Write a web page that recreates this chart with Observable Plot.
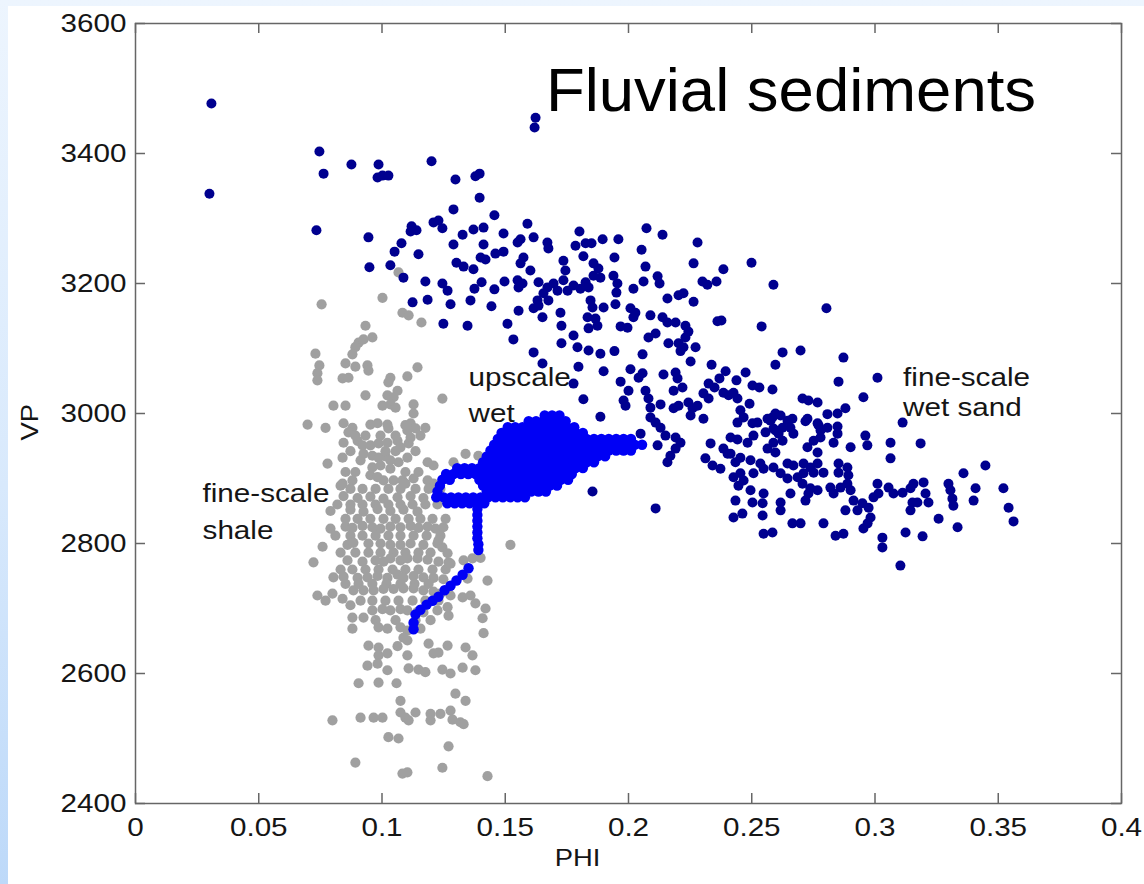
<!DOCTYPE html>
<html>
<head>
<meta charset="utf-8">
<script src="https://cdn.jsdelivr.net/npm/d3@7"></script>
<script src="https://cdn.jsdelivr.net/npm/@observablehq/plot@0.6"></script>
<style>
html, body { margin: 0; padding: 0; }
body { width: 1144px; height: 884px; overflow: hidden; position: relative;
  background: linear-gradient(to bottom, #edf5fe 0%, #d8e9fc 55%, #bdd9f9 100%); }
#panel { position: absolute; left: 8px; top: 6px; width: 1136px; height: 878px; background: #fff; }
</style>
</head>
<body>
<div id="panel"></div>
<script>
// ---------- data (PHI, VP) ----------
const xTicks = [0, 0.05, 0.1, 0.15, 0.2, 0.25, 0.3, 0.35, 0.4];
const yTicks = [2400, 2600, 2800, 3000, 3200, 3400, 3600];

// fine-scale wet sand (navy)
const wetSand = [
[0.0308,3477],[0.0300,3338],[0.0746,3403],[0.0763,3369],[0.0876,3383],[0.0986,3383],[0.0982,3363],[0.1002,3366],[0.1026,3366],[0.0734,3282],[0.0945,3271],[0.1051,3249],[0.0949,3225],[0.1034,3228],
[0.1623,3455],[0.1619,3440],[0.1201,3388],[0.1298,3360],[0.1379,3365],[0.1396,3369],[0.1396,3332],[0.1290,3314],[0.1456,3305],[0.1120,3288],[0.1116,3280],[0.1140,3282],[0.1209,3294],[0.1229,3297],[0.1245,3285],[0.1327,3275],[0.1371,3283],[0.1412,3286],[0.1493,3277],[0.1590,3292],[0.1562,3268],[0.1615,3271],[0.1079,3262],[0.1148,3245],[0.1290,3260],[0.1412,3260],[0.1087,3209],[0.1302,3232],[0.1331,3226],[0.1371,3222],[0.1400,3240],[0.1420,3237],[0.1460,3246],[0.1493,3249],[0.1574,3240],[0.1550,3263],[0.1562,3231],[0.1602,3220],[0.1671,3263],[0.1675,3254],[0.1736,3235],[0.1744,3220],[0.1176,3203],[0.1245,3200],[0.1266,3189],[0.1185,3175],[0.1124,3171],[0.1278,3168],[0.1359,3174],[0.1375,3192],[0.1404,3202],[0.1456,3191],[0.1497,3203],[0.1444,3165],[0.1550,3205],[0.1570,3200],[0.1554,3194],[0.1635,3202],[0.1671,3194],[0.1696,3200],[0.1712,3189],[0.1655,3185],[0.1631,3174],[0.1615,3162],[0.1635,3166],[0.1675,3174],[0.1554,3158],[0.1509,3138],[0.1249,3138],[0.1347,3135],[0.1651,3148],[0.1724,3155],[0.1728,3135],[0.1533,3114],[0.1615,3094],[0.1728,3108],[0.1651,3077],
[0.1801,3280],[0.1785,3258],[0.1826,3262],[0.1850,3262],[0.1895,3268],[0.1959,3268],[0.2073,3285],[0.2138,3275],[0.2280,3263],[0.2053,3252],[0.1817,3242],[0.1736,3205],[0.1858,3231],[0.1878,3223],[0.1886,3209],[0.1858,3212],[0.1943,3240],[0.1939,3212],[0.1955,3200],[0.1951,3186],[0.2069,3226],[0.2061,3203],[0.2118,3211],[0.2126,3200],[0.2264,3231],[0.2385,3222],[0.2499,3232],[0.2300,3203],[0.2320,3198],[0.2357,3203],[0.2588,3198],[0.1777,3197],[0.1753,3189],[0.1805,3192],[0.1826,3202],[0.1838,3194],[0.2020,3192],[0.2158,3177],[0.2203,3182],[0.2223,3185],[0.2264,3172],[0.1846,3174],[0.1854,3163],[0.1899,3163],[0.1947,3168],[0.2008,3162],[0.2028,3155],[0.2020,3148],[0.2089,3151],[0.2138,3148],[0.2158,3140],[0.2191,3140],[0.2231,3135],[0.2243,3126],[0.2231,3117],[0.2361,3142],[0.2377,3143],[0.2540,3134],[0.1834,3148],[0.1866,3146],[0.1874,3135],[0.1838,3131],[0.1968,3134],[0.1996,3132],[0.1777,3120],[0.2081,3117],[0.2110,3123],[0.2162,3108],[0.2203,3108],[0.2223,3102],[0.2211,3096],[0.2272,3102],[0.1793,3102],[0.1838,3097],[0.1886,3092],[0.1943,3096],[0.2057,3091],[0.2252,3080],[0.2625,3094],[0.2698,3097],[0.2596,3075],[0.2337,3075],[0.1797,3072],[0.1899,3065],[0.2008,3068],[0.2057,3062],[0.2041,3055],[0.2142,3060],[0.2191,3063],[0.2199,3054],[0.2394,3065],[0.2475,3063],[0.1968,3049],[0.1777,3046],[0.2325,3046],[0.2349,3040],[0.2369,3054],[0.2438,3051],[0.2503,3043],[0.2531,3040],[0.2584,3037],[0.2000,3035],[0.2069,3035],[0.2081,3023],[0.2089,3009],[0.2183,3035],[0.2219,3040],[0.1817,3022],[0.1980,3020],[0.1988,3012],[0.2130,3014],[0.2183,3008],[0.2203,3012],[0.2243,3017],[0.2260,3008],[0.2252,2997],[0.2280,3012],[0.2304,3031],[0.2325,3023],[0.2304,2992],[0.2406,3028],[0.2426,3032],[0.2442,3023],[0.2491,3015],[0.2706,3023],[0.2730,3020],[0.2767,3017],[0.1886,2995],[0.2089,2994],[0.2110,2986],[0.2130,2978],[0.2049,2969],[0.2118,2951],[0.2150,2966],[0.2191,2963],[0.2211,2955],[0.2191,2946],[0.2170,2935],[0.2158,2925],[0.2454,3005],[0.2467,2994],[0.2442,2986],[0.2503,2985],[0.2523,2986],[0.2584,2994],[0.2617,2997],[0.2645,2989],[0.2657,2978],[0.2669,2969],[0.2596,2974],[0.2556,2971],[0.2726,2992],[0.2767,2985],[0.2414,2963],[0.2442,2960],[0.2483,2955],[0.2385,2946],[0.2402,2938],[0.2333,2954],[0.2312,2931],[0.2341,2920],[0.2373,2915],[0.2454,2932],[0.2495,2928],[0.2535,2923],[0.2588,2917],[0.2645,2923],[0.2669,2920],[0.2710,2923],[0.2738,2917],[0.2767,2923],[0.2726,2948],[0.2767,2940],[0.2751,2958],[0.2596,2940],[0.2564,2946],
[0.2872,3086],[0.3010,3055],[0.2852,3049],[0.2953,3025],[0.2385,3032],[0.3112,2986],[0.2880,3008],[0.2848,3000],[0.2807,2999],[0.2564,2992],[0.2576,2989],[0.2596,3000],[0.2665,2992],[0.2625,2978],[0.2588,2977],[0.2718,2988],[0.2771,2982],[0.2779,2974],[0.2807,2978],[0.2848,2980],[0.2848,2969],[0.2779,2963],[0.2832,2955],[0.2414,2938],[0.2507,2966],[0.2609,2969],[0.2625,2958],[0.2588,2955],[0.2901,2948],[0.2961,2966],[0.2969,2951],[0.3063,2955],[0.3063,2931],[0.3185,2954],[0.3448,2920],[0.3359,2908],[0.2434,2925],[0.2548,2915],[0.2507,2908],[0.2454,2908],[0.2426,2902],[0.2467,2897],[0.2446,2889],[0.2495,2882],[0.2548,2877],[0.2751,2909],[0.2791,2909],[0.2710,2908],[0.2617,2908],[0.2645,2900],[0.2686,2902],[0.2706,2892],[0.2738,2885],[0.2730,2877],[0.2718,2866],[0.2767,2882],[0.2852,2923],[0.2852,2909],[0.2888,2917],[0.2892,2905],[0.2819,2886],[0.2832,2877],[0.2860,2886],[0.2888,2892],[0.2901,2882],[0.2913,2866],[0.2880,2851],[0.2929,2851],[0.2949,2862],[0.2974,2855],[0.2982,2840],[0.2970,2831],[0.2953,2823],[0.3010,2892],[0.3014,2877],[0.2994,2871],[0.3055,2886],[0.3075,2877],[0.3112,2878],[0.3144,2885],[0.3152,2863],[0.3144,2851],[0.3172,2863],[0.3205,2877],[0.3217,2863],[0.3197,2894],[0.3156,2892],[0.3258,2838],[0.3335,2825],[0.3193,2811],[0.3124,2817],[0.3030,2809],[0.3030,2794],[0.3103,2766],[0.3298,2892],[0.3306,2882],[0.3314,2869],[0.3318,2858],[0.3408,2885],[0.3400,2866],[0.3521,2885],[0.3542,2855],[0.3562,2834],[0.2434,2866],[0.2426,2840],[0.2462,2846],[0.2503,2863],[0.2544,2862],[0.2544,2843],[0.2548,2815],[0.2584,2817],[0.2617,2851],[0.2617,2863],[0.2657,2877],[0.2665,2831],[0.2698,2831],[0.2791,2831],[0.2840,2812],[0.2872,2815],
[0.2803,3162],[0.1854,2880],[0.2110,2854]
];

// fine-scale shale (grey)
const shale = [
[0.0755,3168],[0.1002,3178],[0.1067,3217],[0.1083,3155],[0.1108,3151],[0.1160,3140],[0.0933,3135],[0.0905,3109],[0.0925,3114],[0.0961,3117],[0.0892,3102],[0.0730,3092],[0.0880,3091],[0.0746,3074],[0.0738,3062],[0.0738,3051],[0.0852,3077],[0.0892,3072],[0.0941,3074],[0.0945,3066],[0.0840,3054],[0.0864,3055],[0.1034,3055],[0.1026,3048],[0.1103,3057],[0.1144,3071],[0.1063,3035],[0.1022,3028],[0.1047,3025],[0.0933,3028],[0.1245,3023],[0.0803,3012],[0.0852,3012],[0.1002,3012],[0.1034,3014],[0.1055,3009],[0.1128,3014],[0.1128,3000],
[0.0698,2983],[0.0771,2978],[0.0844,2985],[0.0880,2978],[0.0864,2971],[0.0953,2983],[0.0982,2985],[0.1022,2983],[0.1026,2977],[0.1095,2982],[0.1116,2985],[0.1136,2977],[0.1103,2974],[0.1176,2978],[0.0844,2955],[0.0901,2958],[0.0921,2951],[0.0953,2951],[0.0986,2954],[0.1022,2955],[0.1063,2958],[0.1108,2954],[0.1116,2963],[0.1075,2948],[0.0779,2923],[0.0840,2932],[0.0913,2928],[0.0925,2938],[0.0961,2935],[0.0986,2932],[0.1014,2934],[0.1034,2928],[0.1067,2925],[0.1103,2932],[0.0994,2920],[0.0961,2917],[0.1034,2915],[0.1185,2925],[0.1209,2920],[0.1290,2925],[0.1339,2938],[0.1391,2935],
[0.0892,2966],[0.0933,2966],[0.0994,2966],[0.1055,2966],[0.1156,2966],[0.0872,2942],[0.1014,2942],[0.1055,2942],[0.1136,2942],[0.0852,2910],[0.0892,2910],[0.1095,2910],[0.1148,2910],
[0.0840,2892],[0.0880,2897],[0.0953,2905],[0.0982,2902],[0.1006,2897],[0.1047,2897],[0.1083,2897],[0.1095,2892],[0.1128,2900],[0.1185,2897],[0.1209,2892],[0.0832,2889],
[0.0872,2884],[0.0921,2884],[0.0974,2884],[0.1026,2884],[0.1075,2884],[0.1136,2884],[0.1189,2884],[0.1237,2884],
[0.0844,2873],[0.0901,2870],[0.0953,2872],[0.1006,2869],[0.1063,2871],[0.1116,2873],[0.1168,2870],[0.1225,2872],[0.1278,2869],[0.1331,2868],[0.1367,2866],
[0.0819,2860],[0.0872,2860],[0.0921,2860],[0.0974,2860],[0.1026,2860],[0.1075,2860],[0.1124,2860],[0.1176,2860],[0.1225,2860],
[0.0791,2850],[0.0872,2852],[0.0925,2849],[0.0982,2853],[0.1034,2850],[0.1087,2852],[0.1144,2849],
[0.0852,2838],[0.0901,2838],[0.0953,2838],[0.1006,2838],[0.1055,2838],[0.1108,2838],[0.1156,2838],[0.1205,2838],[0.1258,2838],
[0.0791,2823],[0.0852,2826],[0.0880,2824],[0.0921,2827],[0.0961,2825],[0.0994,2823],[0.1034,2826],[0.1075,2825],[0.1116,2827],[0.1148,2824],[0.1185,2826],[0.1217,2823],[0.1249,2825],
[0.0811,2812],[0.0872,2812],[0.0921,2812],[0.0974,2812],[0.1026,2812],[0.1075,2812],[0.1128,2812],[0.1181,2812],[0.1237,2812],
[0.0759,2795],[0.0860,2798],[0.0884,2801],[0.0945,2800],[0.0994,2800],[0.1034,2798],[0.1075,2798],[0.1116,2800],[0.1168,2798],[0.1225,2800],
[0.0832,2786],[0.0892,2786],[0.0945,2786],[0.0994,2786],[0.1047,2786],[0.1095,2786],[0.1148,2786],[0.1197,2786],
[0.0722,2771],[0.0860,2774],[0.0921,2772],[0.0974,2774],[0.1006,2772],[0.1034,2777],[0.1075,2774],[0.1103,2777],[0.1144,2777],[0.1185,2775],[0.1229,2772],[0.1270,2771],[0.1331,2774],[0.1367,2777],[0.1400,2778],
[0.0832,2760],[0.0880,2760],[0.0933,2760],[0.0986,2760],[0.1043,2760],[0.1095,2760],[0.1148,2760],[0.1205,2760],[0.1258,2760],
[0.0803,2748],[0.0844,2749],[0.0901,2747],[0.0941,2748],[0.0982,2750],[0.1022,2747],[0.1063,2752],[0.1087,2747],[0.1128,2750],[0.1168,2748],[0.1209,2747],[0.1249,2745],[0.1347,2746],[0.1428,2743],
[0.0852,2738],[0.0905,2738],[0.0961,2738],[0.1018,2738],[0.1075,2738],[0.1132,2738],[0.1189,2738],
[0.0738,2720],[0.0771,2712],[0.0799,2723],[0.0840,2715],[0.0872,2705],
[0.0884,2728],[0.0925,2728],[0.0966,2728],[0.1006,2730],[0.1047,2730],[0.1087,2731],[0.1128,2731],[0.1168,2728],[0.1209,2726],[0.1237,2723],[0.1278,2720],[0.1327,2717],[0.1359,2720],[0.1379,2708],
[0.0913,2712],[0.0961,2712],[0.1014,2712],[0.1067,2712],[0.1124,2712],[0.1176,2712],[0.1229,2712],
[0.0961,2697],[0.1002,2699],[0.1034,2697],[0.1075,2699],[0.1103,2697],[0.1144,2695],[0.1168,2694],[0.1225,2697],[0.1266,2702],[0.1270,2689],[0.1420,2700],[0.1408,2685],[0.1412,2662],[0.0880,2686],[0.0925,2686],
[0.0974,2682],[0.1055,2682],[0.1136,2682],[0.1197,2682],
[0.0880,2669],[0.0986,2671],[0.1022,2669],[0.1075,2671],[0.1103,2666],[0.1156,2669],
[0.1087,2655],[0.0945,2643],[0.0986,2640],[0.1063,2642],[0.1103,2651],[0.1189,2646],[0.1209,2631],[0.1229,2632],[0.1266,2643],[0.1339,2640],[0.1367,2628],[0.0986,2628],[0.1022,2631],[0.1103,2628],
[0.0941,2612],[0.0982,2615],[0.1022,2605],[0.1108,2608],[0.1148,2606],[0.1176,2602],[0.1245,2606],[0.1278,2600],[0.1327,2609],[0.1379,2605],[0.0905,2585],[0.0986,2586],[0.1059,2585],[0.1298,2569],[0.1339,2558],[0.1075,2558],
[0.0799,2528],[0.0913,2532],[0.0966,2532],[0.1002,2532],[0.1075,2540],[0.1095,2532],[0.1108,2528],[0.1136,2540],[0.1197,2538],[0.1197,2528],[0.1237,2538],[0.1278,2543],[0.1286,2529],[0.1318,2525],[0.1331,2522],
[0.1026,2502],[0.1067,2500],[0.1270,2488],[0.0892,2463],[0.1083,2446],[0.1103,2448],[0.1245,2455],[0.1428,2442],
[0.1521,2798],[0.1245,2794],[0.1229,2805],[0.1266,2785],[0.1278,2769]
];

// upscale wet (blue): rows of PHI at a given VP, then the stem and tail
const upscaleRows = [
{vp: 2997, phi: [0.166,0.169,0.172]},
{vp: 2988, phi: [0.1595,0.1625,0.1655,0.1685,0.1715,0.1745]},
{vp: 2979, phi: [0.151,0.154,0.157,0.160,0.163,0.166,0.169,0.172,0.175,0.178]},
{vp: 2970, phi: [0.1485,0.1515,0.1545,0.1575,0.1605,0.1635,0.1665,0.1695,0.1725,0.1755,0.1785,0.1815]},
{vp: 2961, phi: [0.147,0.150,0.153,0.156,0.159,0.162,0.165,0.168,0.171,0.174,0.177,0.180,0.183,0.186,0.189,0.192,0.195,0.198,0.201]},
{vp: 2952, phi: [0.1455,0.1485,0.1515,0.1545,0.1575,0.1605,0.1635,0.1665,0.1695,0.1725,0.1755,0.1785,0.1815,0.1845,0.1875,0.1905,0.1935,0.1965,0.1995,0.2025,0.2055]},
{vp: 2943, phi: [0.144,0.147,0.150,0.153,0.156,0.159,0.162,0.165,0.168,0.171,0.174,0.177,0.180,0.183,0.186,0.189,0.192,0.195,0.198,0.201]},
{vp: 2934, phi: [0.1425,0.1455,0.1485,0.1515,0.1545,0.1575,0.1605,0.1635,0.1665,0.1695,0.1725,0.1755,0.1785,0.1815,0.1845,0.1875,0.1905]},
{vp: 2925, phi: [0.141,0.144,0.147,0.150,0.153,0.156,0.159,0.162,0.165,0.168,0.171,0.174,0.177,0.180,0.183,0.186]},
{vp: 2916, phi: [0.1305,0.1335,0.1365,0.1395,0.1425,0.1455,0.1485,0.1515,0.1545,0.1575,0.1605,0.1635,0.1665,0.1695,0.1725,0.1755,0.1785,0.1815]},
{vp: 2907, phi: [0.126,0.129,0.132,0.135,0.138,0.141,0.144,0.147,0.150,0.153,0.156,0.159,0.162,0.165,0.168,0.171,0.174,0.177]},
{vp: 2898, phi: [0.1245,0.1275,0.1395,0.1425,0.1455,0.1485,0.1515,0.1545,0.1575,0.1605,0.1635,0.1665,0.1695,0.1725,0.1755]},
{vp: 2889, phi: [0.1235,0.141,0.144,0.147,0.150,0.153,0.156,0.159,0.162,0.165,0.168,0.171]},
{vp: 2880, phi: [0.1225,0.1425,0.1455,0.1485,0.1515,0.1545,0.1575,0.1605,0.1635,0.1665]},
{vp: 2871, phi: [0.122,0.125,0.128,0.131,0.134,0.137,0.140,0.143,0.146,0.149,0.152,0.155,0.158]},
{vp: 2862, phi: [0.1265,0.1295,0.1325,0.1355,0.1385,0.1415]}
];
const upscaleTail = [
[0.1387,2853],[0.1387,2844],[0.1387,2835],[0.1387,2826],[0.1387,2817],[0.1387,2808],[0.1391,2799],[0.1391,2790],
[0.1351,2762],[0.1327,2752],[0.1302,2743],[0.1278,2735],[0.1254,2728],[0.1229,2718],[0.1205,2712],[0.1181,2706],[0.1156,2698],[0.1136,2691],[0.1128,2678],[0.1128,2668]
];

const notes = [
{phi: 0.1351, vp: 3055, text: "upscale"},
{phi: 0.1351, vp: 2999, text: "wet"},
{phi: 0.0272, vp: 2876, text: "fine-scale"},
{phi: 0.0272, vp: 2820, text: "shale"},
{phi: 0.3114, vp: 3055, text: "fine-scale"},
{phi: 0.3114, vp: 3009, text: "wet sand"}
];
const titleText = [{phi: 0.1665, vp: 3496, text: "Fluvial sediments"}];

// ---------- chart ----------
const upscale = upscaleRows.flatMap(r => r.phi.map(p => [p, r.vp])).concat(upscaleTail);
const font = "'Liberation Sans', Arial, Helvetica, sans-serif";
const axisColor = "#666";
const fmt = d => String(d);

const chart = Plot.plot({
  width: 1136, height: 878,
  marginLeft: 127, marginRight: 23, marginTop: 17, marginBottom: 81,
  style: {background: "#fff", fontFamily: font, color: "#151515"},
  x: {domain: [0, 0.4]},
  y: {domain: [2400, 3600]},
  marks: [
    Plot.dot(shale, {x: d => d[0], y: d => d[1], r: 5.1, fill: "#a0a0a0"}),
    Plot.dot(wetSand, {x: d => d[0], y: d => d[1], r: 5, fill: "#00008f"}),
    Plot.dot(upscale, {x: d => d[0], y: d => d[1], r: 5.2, fill: "#0000f5"}),
    Plot.frame({stroke: axisColor, strokeWidth: 1.5}),
    Plot.tickX(xTicks, {x: d => d, insetTop: 770, stroke: axisColor, strokeWidth: 1.5}),
    Plot.tickX(xTicks, {x: d => d, insetBottom: 770, stroke: axisColor, strokeWidth: 1.5}),
    Plot.tickY(yTicks, {y: d => d, insetRight: 976, stroke: axisColor, strokeWidth: 1.5}),
    Plot.tickY(yTicks, {y: d => d, insetLeft: 976, stroke: axisColor, strokeWidth: 1.5}),
    Plot.axisX({ticks: xTicks, tickFormat: fmt, tickSize: 0, tickPadding: 14, fontSize: 26, label: null}),
    Plot.axisY({ticks: yTicks, tickFormat: fmt, tickSize: 0, tickPadding: 9, fontSize: 26, label: null}),
    Plot.text(["PHI"], {frameAnchor: "bottom", dx: -51, dy: 62, fontSize: 24, fill: "#151515"}),
    Plot.text(["VP"], {frameAnchor: "left", dx: -105, dy: 27, rotate: -90, fontSize: 24, fill: "#151515"}),
    Plot.text(notes, {x: "phi", y: "vp", text: "text", textAnchor: "start", fontSize: 26, fill: "#151515"}),
    Plot.text(titleText, {x: "phi", y: "vp", text: "text", textAnchor: "start", fontSize: 61, fill: "#000"})
  ]
});

document.getElementById("panel").append(chart);

// the original's lettering is slightly wider than Liberation Sans: stretch glyphs a little
chart.querySelectorAll("text").forEach(t => {
  const fs = parseFloat(getComputedStyle(t).fontSize);
  const k = fs > 40 ? 1.04 : 1.14;
  const w = t.getComputedTextLength();
  if (w > 0) {
    t.setAttribute("textLength", (w * k).toFixed(1));
    t.setAttribute("lengthAdjust", "spacingAndGlyphs");
  }
});
</script>
</body>
</html>
